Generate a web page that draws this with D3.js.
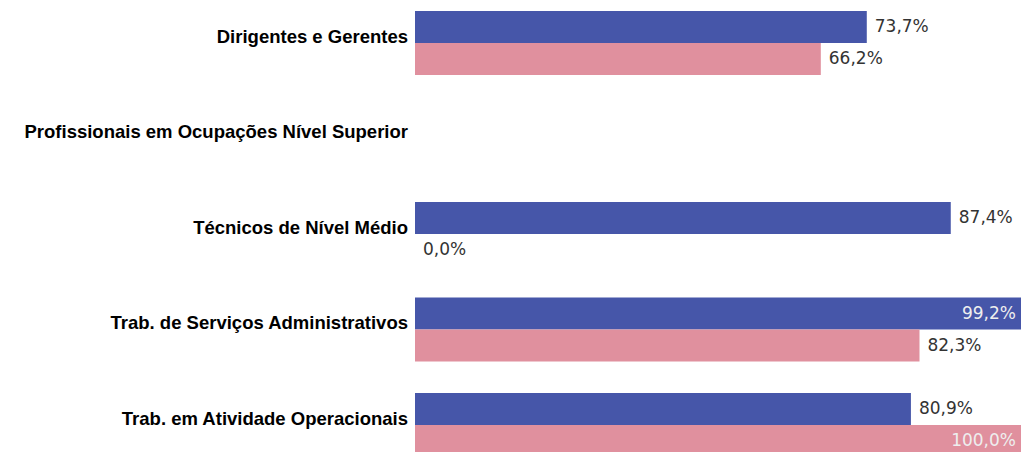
<!DOCTYPE html>
<html>
<head>
<meta charset="utf-8">
<script src="https://cdn.jsdelivr.net/npm/d3@7"></script>
<style>
  body { margin: 0; background: #fff; overflow: hidden; }
</style>
</head>
<body>
<div id="chart"></div>
<script>
// Data
const categories = [
  "Dirigentes e Gerentes",
  "Profissionais em Ocupações Nível Superior",
  "Técnicos de Nível Médio",
  "Trab. de Serviços Administrativos",
  "Trab. em Atividade Operacionais"
];
const seriesNames = ["serieA", "serieB"];
const serieA = [73.7, null, 87.4, 99.2, 80.9];
const serieB = [66.2, null, 0.0, 82.3, 100.0];

const width = 1021, height = 452;
const x0 = 415;

const svg = d3.select("#chart")
  .append("svg")
    .attr("width", width)
    .attr("height", height);

// value scale: 100% is wider than the visible area (bars get cut at the edge)
const x = d3.scaleLinear()
  .domain([0, 100])
  .range([x0, x0 + 613]);

// group centers
const y = d3.scalePoint()
  .domain(categories)
  .range([43, 425]);

// sub-band for the two series inside a group
const ySub = d3.scaleBand()
  .domain(seriesNames)
  .range([-32, 32]);

const color = d3.scaleOrdinal()
  .domain(seriesNames)
  .range(["#4656A9", "#E0909E"]);

// category labels
svg.append("g")
  .selectAll("text")
  .data(categories)
  .join("text")
    .attr("x", 408)
    .attr("y", d => y(d) - 5)
    .attr("text-anchor", "end")
    .attr("dominant-baseline", "middle")
    .style("font-family", "'Liberation Sans', Arial, sans-serif")
    .style("font-size", "18.5px")
    .style("font-weight", "bold")
    .style("fill", "#000")
    .text(d => d);

// flatten into bars
const rows = [];
categories.forEach((c, i) => {
  rows.push({cat: c, key: "serieA", value: serieA[i]});
  rows.push({cat: c, key: "serieB", value: serieB[i]});
});
const bars = rows.filter(d => d.value !== null);

svg.append("g")
  .selectAll("rect")
  .data(bars)
  .join("rect")
    .attr("x", x0)
    .attr("y", d => y(d.cat) + ySub(d.key))
    .attr("width", d => x(d.value) - x0)
    .attr("height", ySub.bandwidth())
    .attr("fill", d => color(d.key));

// value labels: outside the bar, or inside when the bar runs off the edge
const fmt = v => v.toFixed(1).replace(".", ",") + "%";
const inside = d => x(d.value) > width - 60;
svg.append("g")
  .selectAll("text")
  .data(bars)
  .join("text")
    .attr("x", d => inside(d) ? Math.min(x(d.value), width) - 5 : x(d.value) + 8)
    .attr("y", d => y(d.cat) + ySub(d.key) + ySub.bandwidth() / 2)
    .attr("text-anchor", d => inside(d) ? "end" : "start")
    .attr("dominant-baseline", "middle")
    .style("font-family", "'DejaVu Sans', Verdana, sans-serif")
    .style("font-size", "17px")
    .style("fill", d => inside(d) ? "#eeeeee" : "#333")
    .text(d => fmt(d.value));
</script>
</body>
</html>
